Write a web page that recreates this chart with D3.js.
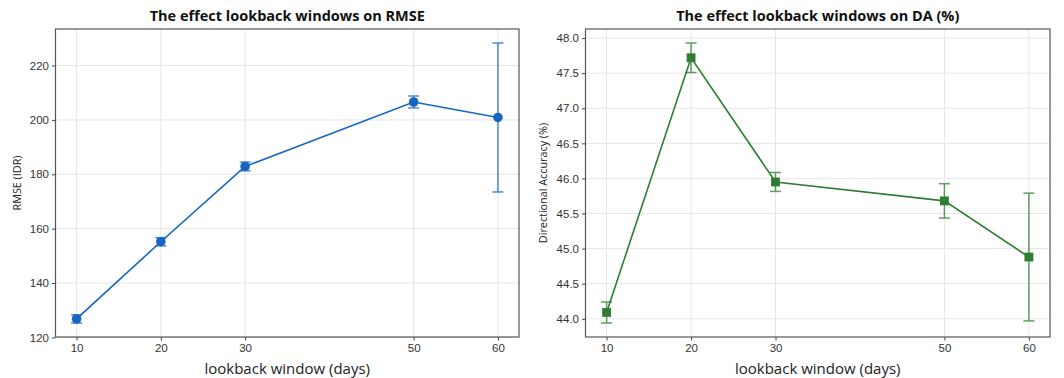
<!DOCTYPE html>
<html>
<head>
<meta charset="utf-8">
<script src="https://cdn.jsdelivr.net/npm/d3@7"></script>
<style>
  body { margin: 0; background: #fff; }
  svg { display: block; font-family: "Open Sans", sans-serif; }
</style>
</head>
<body>
<div id="chart"></div>
<script>
// lookback windows (days)
const windows = [10, 20, 30, 50, 60];

// RMSE (IDR) mean and std
const rmseMean = [126.8, 155.2, 182.9, 206.6, 200.9];
const rmseErr = [1.5, 1.5, 1.6, 2.2, 27.4];

// Directional accuracy (%) mean and std
const daMean = [44.09, 47.72, 45.95, 45.68, 44.88];
const daErr = [0.15, 0.21, 0.135, 0.245, 0.91];

const rmseTicks = [120, 140, 160, 180, 200, 220];
const daTicks = [44.0, 44.5, 45.0, 45.5, 46.0, 46.5, 47.0, 47.5, 48.0];

const width = 1064, height = 378;

const svg = d3.select("#chart")
  .append("svg")
    .attr("width", width)
    .attr("height", height)
    .attr("viewBox", [0, 0, width, height]);

const drawPanel = (opts) => {
  const {left, right, top, bottom, means, errs, ticks, fmt, color, marker, title, ylabel, ylabelX} = opts;

  const data = windows.map((w, i) => ({w: w, v: means[i], e: errs[i]}));

  // matplotlib-like 5% margins
  const xPad = (d3.max(windows) - d3.min(windows)) * 0.05;
  const xScale = d3.scaleLinear()
    .domain([d3.min(windows) - xPad, d3.max(windows) + xPad])
    .range([left, right]);

  const lo = d3.min(data, d => d.v - d.e), hi = d3.max(data, d => d.v + d.e);
  const yPad = (hi - lo) * 0.05;
  const yScale = d3.scaleLinear()
    .domain([lo - yPad, hi + yPad])
    .range([bottom, top]);

  const g = svg.append("g");

  // grid
  g.append("g")
    .selectAll("line.gx")
    .data(windows)
    .join("line")
      .attr("x1", d => xScale(d)).attr("x2", d => xScale(d))
      .attr("y1", top).attr("y2", bottom)
      .attr("stroke", "#e6e6e6").attr("stroke-width", 1);
  g.append("g")
    .selectAll("line.gy")
    .data(ticks)
    .join("line")
      .attr("x1", left).attr("x2", right)
      .attr("y1", d => yScale(d)).attr("y2", d => yScale(d))
      .attr("stroke", "#e6e6e6").attr("stroke-width", 1);

  // axes
  const xAxis = d3.axisBottom(xScale).tickValues(windows).tickSize(3.5).tickPadding(3);
  const xg = g.append("g")
    .attr("transform", `translate(0, ${bottom})`)
    .call(xAxis);
  const yAxis = d3.axisLeft(yScale).tickValues(ticks).tickFormat(fmt).tickSize(3.5).tickPadding(3);
  const yg = g.append("g")
    .attr("transform", `translate(${left}, 0)`)
    .call(yAxis);
  [xg, yg].forEach(a => {
    a.select(".domain").remove();
    a.selectAll("line").attr("stroke", "#444");
    a.selectAll("text").attr("fill", "#333").style("font-size", "11.5px");
  });

  // frame
  g.append("rect")
    .attr("x", left).attr("y", top)
    .attr("width", right - left).attr("height", bottom - top)
    .attr("fill", "none").attr("stroke", "#555").attr("stroke-width", 1.2);

  // error bars
  const eb = g.append("g").attr("stroke", color).attr("stroke-width", 1.5).attr("opacity", 0.75);
  eb.selectAll("line.v")
    .data(data)
    .join("line")
      .attr("x1", d => xScale(d.w)).attr("x2", d => xScale(d.w))
      .attr("y1", d => yScale(d.v - d.e)).attr("y2", d => yScale(d.v + d.e));
  eb.selectAll("line.top")
    .data(data)
    .join("line")
      .attr("x1", d => xScale(d.w) - 5.5).attr("x2", d => xScale(d.w) + 5.5)
      .attr("y1", d => yScale(d.v + d.e)).attr("y2", d => yScale(d.v + d.e));
  eb.selectAll("line.bot")
    .data(data)
    .join("line")
      .attr("x1", d => xScale(d.w) - 5.5).attr("x2", d => xScale(d.w) + 5.5)
      .attr("y1", d => yScale(d.v - d.e)).attr("y2", d => yScale(d.v - d.e));

  // line
  const line = d3.line()
    .x(d => xScale(d.w))
    .y(d => yScale(d.v));
  g.append("path")
    .datum(data)
    .attr("d", line)
    .attr("fill", "none")
    .attr("stroke", color)
    .attr("stroke-width", 1.6);

  // markers
  const sym = d3.symbol().type(marker === "square" ? d3.symbolSquare : d3.symbolCircle)
    .size(marker === "square" ? 78 : 72);
  g.append("g")
    .selectAll("path")
    .data(data)
    .join("path")
      .attr("transform", d => `translate(${xScale(d.w)}, ${yScale(d.v)})`)
      .attr("d", sym)
      .attr("fill", color);

  // title and labels
  g.append("text")
    .attr("x", (left + right) / 2).attr("y", 21)
    .attr("text-anchor", "middle")
    .style("font-size", "14.5px").style("font-weight", "bold")
    .attr("fill", "#111")
    .text(title);
  g.append("text")
    .attr("x", (left + right) / 2).attr("y", 374)
    .attr("text-anchor", "middle")
    .style("font-size", "15px")
    .attr("fill", "#222")
    .text("lookback window (days)");
  g.append("text")
    .attr("transform", `translate(${ylabelX}, ${(top + bottom) / 2}) rotate(-90)`)
    .attr("text-anchor", "middle")
    .style("font-size", "10.8px")
    .attr("fill", "#222")
    .text(ylabel);
};

drawPanel({
  left: 55.5, right: 519, top: 29, bottom: 337,
  means: rmseMean, errs: rmseErr, ticks: rmseTicks, fmt: d3.format("d"),
  color: "#1565c0", marker: "circle",
  title: "The effect lookback windows on RMSE",
  ylabel: "RMSE (IDR)", ylabelX: 21
});

drawPanel({
  left: 585.5, right: 1050, top: 29, bottom: 337,
  means: daMean, errs: daErr, ticks: daTicks, fmt: d3.format(".1f"),
  color: "#2e7d32", marker: "square",
  title: "The effect lookback windows on DA (%)",
  ylabel: "Directional Accuracy (%)", ylabelX: 547
});
</script>
</body>
</html>
